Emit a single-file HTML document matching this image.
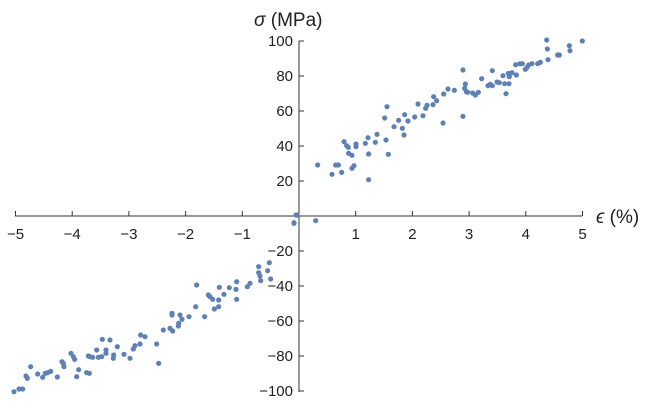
<!DOCTYPE html>
<html><head><meta charset="utf-8"><style>body{margin:0;background:#fff}svg{display:block}text{font-family:"Liberation Sans",sans-serif;font-size:15px;fill:#222}</style></head><body>
<svg width="658" height="412" viewBox="0 0 658 412">
<g stroke="#333" stroke-width="1">
<line x1="15" y1="216" x2="582" y2="216"/>
<line x1="299" y1="41" x2="299" y2="392"/>
<g id="xt"></g>
</g>
<g id="labels"></g>
<text x="254" y="26" style="font-size:19px"><tspan font-style="italic">σ</tspan> (MPa)</text>
<text x="596" y="223" style="font-size:19px"><tspan font-style="italic">ϵ</tspan> (%)</text>
<g id="pts" fill="#5e81b5"></g>
<script>
var ns="http://www.w3.org/2000/svg";
function el(t,a,p){var e=document.createElementNS(ns,t);for(var k in a)e.setAttribute(k,a[k]);p.appendChild(e);return e;}
var xt=document.getElementById('xt'),lb=document.getElementById('labels');
for(var i=-5;i<=5;i++){if(!i)continue;var x=299+i*56.7;el('line',{x1:x,y1:216,x2:x,y2:211},xt);
var t=el('text',{x:x,y:239,'text-anchor':'middle'},lb);t.textContent=(i<0?'\u2212':'')+Math.abs(i);}
for(var v=-100;v<=100;v+=20){if(!v)continue;var y=216-v*1.75;el('line',{x1:299,y1:y,x2:304,y2:y},xt);
var t=el('text',{x:293,y:y+5,'text-anchor':'end'},lb);t.textContent=(v<0?'\u2212':'')+Math.abs(v);}
var a=[[18,555],[12,578],[77,572],[83,405],[126,433],[137,405],[145,405],[155,427],[162,335],[170,347],[175,352],[176,370],[186,376],[186,415],[192,407],[198,342],[198,350],[226,340],[234,323],[236,372],[236,449],[256,337],[261,313],[284,264],[288,330],[291,230],[295,373],[312,290],[326,271],[337,295],[342,315],[344,254],[354,273],[374,261],[384,222],[399,257],[407,235],[411,226],[429,224],[431,200],[440,212],[459,279],[461,192],[474,177],[493,181],[519,120],[519,259],[526,162],[524,175],[529,185],[533,187],[548,189],[556,195],[565,187],[575,146],[594,167],[601,163],[607,122],[607,167],[621,156],[628,158],[639,137],[644,161],[648,191],[655,130],[657,161],[658,140],[666,128],[679,135],[677,104],[690,101],[697,101],[706,118],[711,112],[716,105],[726,101],[743,101],[751,97],[770,30],[772,57],[774,89],[803,75],[808,75],[838,47],[840,62],[877,33]];
var b=[[891,45],[882,70],[808,188],[812,237],[803,212],[776,200],[776,218],[780,228],[782,242],[750,250],[742,260],[710,245],[708,268],[710,298],[688,263],[672,283],[658,262],[656,300],[656,320],[643,327],[638,298],[630,290],[625,285],[614,350],[590,255],[587,320],[567,350],[546,358],[540,345],[536,370],[535,378],[516,340],[516,345],[518,393],[510,385],[490,390],[476,490],[470,432],[435,410],[422,405],[420,432],[405,437],[400,447],[390,475],[372,463],[352,440],[341,465],[340,475],[330,420],[318,460],[318,450],[307,418],[305,470],[295,472],[290,450],[278,472],[270,470],[265,468],[260,518],[268,520],[236,509],[230,530],[224,478],[220,470],[213,460],[192,500],[190,490],[186,485],[172,531],[152,514],[143,518],[136,520],[128,532],[113,522],[92,500],[82,535],[78,528],[68,567],[57,567],[42,575]];
var g=document.getElementById('pts');
a.forEach(function(p){el('circle',{cx:290+p[0]/3,cy:30+p[1]/3,r:2.6},g);});
b.forEach(function(p){el('circle',{cx:p[0]/3,cy:200+p[1]/3,r:2.6},g);});
</script>
</svg>
</body></html>
